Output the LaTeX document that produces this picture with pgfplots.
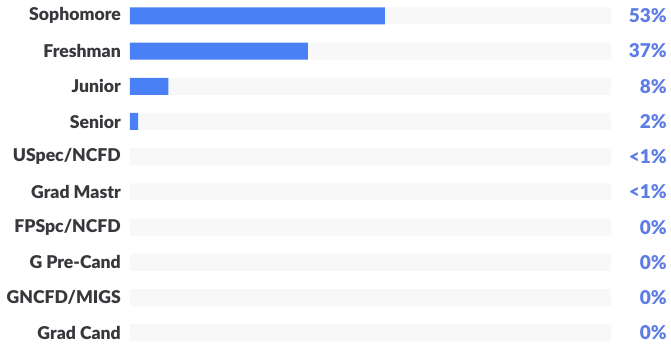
\documentclass[border=0pt]{standalone}
\usepackage{fontspec}
\setmainfont{Lato}[BoldFont={Lato Black}]
\usepackage{pgfplots}
\pgfplotsset{compat=1.18}
\definecolor{barblue}{RGB}{74,128,246}
\definecolor{pctblue}{RGB}{92,124,230}
\definecolor{labgray}{RGB}{55,55,60}
\definecolor{track}{RGB}{248,248,248}
\newcommand{\lf}{\fontsize{17.6bp}{19bp}\selectfont\bfseries}
\newcommand{\pf}{\fontsize{19bp}{21bp}\selectfont\bfseries}
\begin{document}
\begin{tikzpicture}
\begin{axis}[
  scale only axis,
  width=481bp, height=344bp,
  xmin=0, xmax=100,
  ymin=-0.45, ymax=9.32,
  y dir=reverse,
  axis line style={draw=none},
  clip=false,
  ytick={0,...,9},
  yticklabels={Sophomore,Freshman,Junior,Senior,USpec/NCFD,Grad Mastr,FPSpc/NCFD,G Pre-Cand,GNCFD/MIGS,Grad Cand},
  yticklabel style={font=\lf, text=labgray, anchor=east, inner xsep=0pt, xshift=-9bp},
  major tick length=0pt,
  xtick=\empty,
]
\addplot[xbar, bar width=17bp, bar shift=0pt, fill=track, draw=none]
 coordinates {(100,0) (100,1) (100,2) (100,3) (100,4) (100,5) (100,6) (100,7) (100,8) (100,9)};
\addplot[xbar, bar width=17bp, bar shift=0pt, fill=barblue, draw=none]
 coordinates {(53,0) (37,1) (8,2) (1.7,3)};
\addplot[draw=none, mark=none, point meta=explicit symbolic,
  nodes near coords={\pf\pgfplotspointmeta},
  every node near coord/.append style={anchor=east, xshift=56bp, text=pctblue, inner sep=0pt}]
 coordinates {(100,0) [53\%] (100,1) [37\%] (100,2) [8\%] (100,3) [2\%] (100,4) [<1\%] (100,5) [<1\%] (100,6) [0\%] (100,7) [0\%] (100,8) [0\%] (100,9) [0\%]};
\end{axis}
\pgfresetboundingbox
\useasboundingbox (-130bp,0) rectangle (541bp,344bp);
\end{tikzpicture}
\end{document}
